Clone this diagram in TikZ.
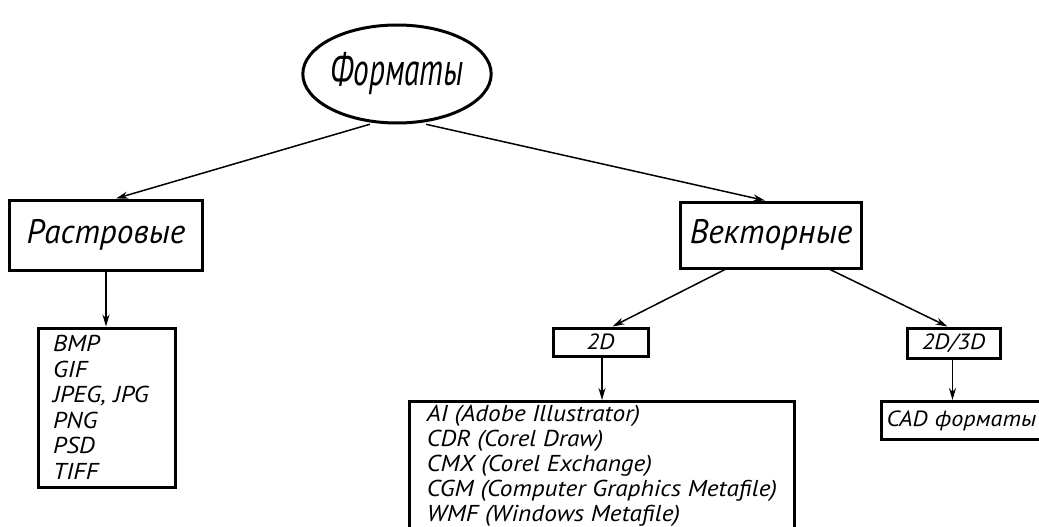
\documentclass[tikz,border=0pt]{standalone}
\usepackage{fontspec}
\newfontfamily\gostT{PT Sans}[FakeStretch=0.68]
\newfontfamily\gostB{PT Sans}[FakeStretch=0.98]
\newfontfamily\gostA{PT Sans}[FakeStretch=1.1]
\usetikzlibrary{arrows.meta,shapes.geometric}
\begin{document}
\begin{tikzpicture}[x=1pt,y=-1pt,
  box/.style={draw=black,line width=3pt,rectangle,inner sep=0pt,font=\gostB\itshape\fontsize{34}{36}\selectfont},
  small/.style={draw=black,line width=3pt,rectangle,inner sep=0pt,font=\gostA\itshape\fontsize{22}{24}\selectfont},
  listbox/.style={draw=black,line width=3pt,rectangle,align=left,inner sep=0pt},
  arr/.style={-{Stealth[length=12pt,width=7pt]},line width=1.5pt,shorten <=-1pt}]
\useasboundingbox (0,0) rectangle (1039,527);
\clip (0,0) rectangle (1039,527);
\fill[white] (0,0) rectangle (1039,527);
\node[ellipse,draw=black,line width=3pt,minimum width=188pt,minimum height=98pt,inner sep=0pt,font=\gostT\itshape\fontsize{46}{48}\selectfont] (ell) at (397,74) {Форматы};
\node[box,minimum width=193pt,minimum height=70pt] (rast) at (106,235) {Растровые};
\node[box,minimum width=181pt,minimum height=66pt] (vek) at (771,235) {Векторные};
\node[listbox,minimum width=137pt,minimum height=159pt,text width=107pt,font=\gostA\itshape\fontsize{23}{25.5}\selectfont] (rlist) at (106.5,407.5) {BMP\\GIF\\JPEG, JPG\\PNG\\PSD\\TIFF};
\node[small,minimum width=95pt,minimum height=28pt] (d2) at (600.5,342) {2D};
\node[small,minimum width=93pt,minimum height=30pt] (d3) at (953.5,343) {2D/3D};
\node[listbox,anchor=north west,minimum width=385pt,inner ysep=4pt,text depth=40pt,font=\gostA\itshape\fontsize{23}{25}\selectfont] (vlist) at (408,400) {AI (Adobe Illustrator)\\CDR (Corel Draw)\\CMX (Corel Exchange)\\CGM (Computer Graphics Metafile)\\WMF (Windows Metafile)};
\node[small,anchor=north west,minimum width=170pt,minimum height=38pt,align=left,text width=160pt,inner xsep=5pt] (cad) at (880,400) {CAD форматы};
\draw[arr] ([xshift=-28pt]ell.south) -- ([xshift=10pt]rast.north);
\draw[arr] ([xshift=30pt]ell.south) -- ([xshift=-6pt]vek.north);
\draw[arr] (rast.south) -- (rast.south |- rlist.north);
\draw[arr] ([xshift=-46pt]vek.south) -- ([xshift=12pt]d2.north);
\draw[arr] ([xshift=59pt]vek.south) -- ([xshift=-6pt]d3.north);
\draw[arr] ([xshift=1.5pt]d2.south) -- ([xshift=1.5pt]d2.south |- vlist.north);
\draw[arr] ([xshift=-1pt]d3.south) -- ([xshift=-1pt]d3.south |- cad.north);
\end{tikzpicture}
\end{document}
